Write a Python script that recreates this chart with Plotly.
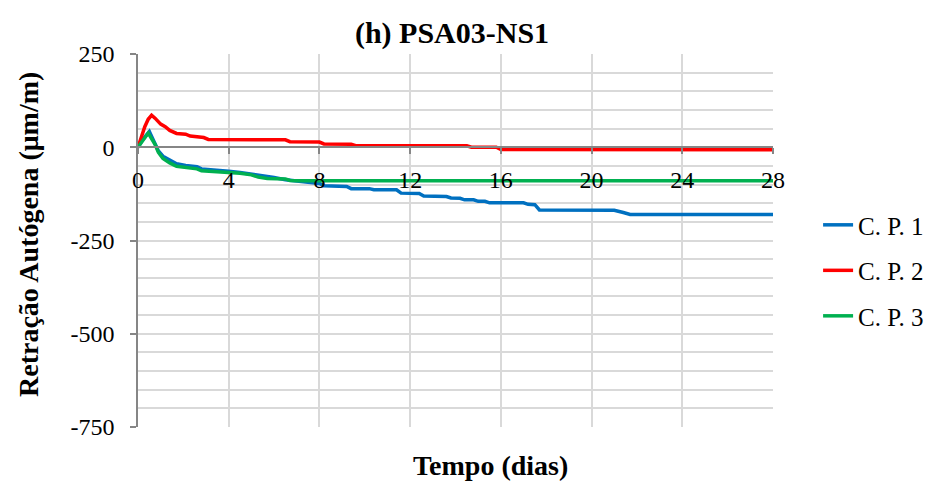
import plotly.graph_objects as go

# Autogenous shrinkage, specimen set PSA03-NS1 (days vs. µm/m)
cp1_days = [0, 0.2, 0.5, 0.75, 0.9, 1.1, 1.4, 1.7, 2.1, 2.6, 2.8, 3.5, 4.0, 4.5, 5.0, 5.4,
            6.0, 6.5, 7.0, 7.5, 8.0, 8.2, 9.2, 9.4, 10.2, 10.4, 11.4, 11.6, 12.4, 12.6,
            13.6, 13.8, 14.2, 14.4, 14.8, 15.0, 15.3, 15.5, 17.0, 17.2, 17.5, 17.7,
            21.0, 21.4, 21.7, 28.0]
cp1_vals = [0, 20, 42, 12, -10, -24, -35, -44, -49, -52, -58, -61, -64, -68, -72, -76,
            -81, -87, -91, -94, -97, -103, -105, -111, -111, -114, -114, -123, -124, -131,
            -132, -136, -137, -141, -141, -145, -145, -149, -149, -153, -154, -168,
            -169, -175, -180, -180]

cp2_days = [0, 0.15, 0.3, 0.45, 0.6, 0.75, 0.9, 1.0, 1.2, 1.4, 1.7, 2.1, 2.3, 2.7, 2.9,
            3.1, 6.5, 6.7, 8.0, 8.2, 9.4, 9.6, 14.5, 14.7, 15.8, 16.0, 28.0]
cp2_vals = [0, 30, 55, 75, 86, 78, 68, 62, 55, 45, 37, 35, 30, 28, 26,
            21, 20, 15, 14, 9, 8, 4, 4, 0, 0, -6, -7]

cp3_days = [0, 0.2, 0.45, 0.75, 0.9, 1.1, 1.4, 1.7, 2.1, 2.6, 2.8, 3.5, 4.0, 4.5, 5.0,
            5.3, 5.7, 6.5, 6.7, 7.0, 28.0]
cp3_vals = [0, 18, 38, 8, -14, -30, -42, -51, -55, -58, -63, -66, -67, -70, -74,
            -80, -84, -85, -89, -90, -90]

series_names = ["C. P. 1", "C. P. 2", "C. P. 3"]
series_colors = ["#0070C0", "#FF0000", "#00B050"]

x_ticks = [0, 4, 8, 12, 16, 20, 24, 28]
y_ticks = [-750, -500, -250, 0, 250]
y_range = [-750, 250]
x_range = [0, 28]

FONT = "Times New Roman, Liberation Serif, serif"
AXIS_GRAY = "#868686"
GRID_GRAY = "#D9D9D9"

fig = go.Figure()
for name, color, xs, ys in zip(series_names, series_colors,
                               [cp1_days, cp2_days, cp3_days],
                               [cp1_vals, cp2_vals, cp3_vals]):
    fig.add_trace(go.Scatter(x=xs, y=ys, mode="lines", name=name, legendgroup=name,
                             line=dict(color=color, width=3.5)))

# the horizontal axis crosses the vertical one at y = 0
x_cross = (0 - y_range[0]) / (y_range[1] - y_range[0])

fig.update_layout(
    width=931, height=483,
    margin=dict(l=138, r=158, t=54, b=56, autoexpand=False),
    paper_bgcolor="white", plot_bgcolor="white",
    font=dict(family=FONT, size=24, color="black"),
    title=dict(text="<b>(h) PSA03-NS1</b>", font=dict(size=30, family=FONT),
               x=0.4945, xref="paper", xanchor="center",
               y=1 - 32 / 483, yref="container", yanchor="middle"),
    xaxis=dict(range=x_range, tickvals=x_ticks, ticktext=[str(v) for v in x_ticks],
               showgrid=True, gridcolor=GRID_GRAY, gridwidth=1.5,
               showline=True, linecolor=AXIS_GRAY, linewidth=1.5,
               ticks="outside", ticklen=6, tickcolor=AXIS_GRAY, tickwidth=1.5,
               anchor="free", position=x_cross, zeroline=False,
               ticklabelstandoff=5, tickfont=dict(size=24)),
    yaxis=dict(range=y_range, tickvals=y_ticks, ticktext=[str(v) for v in y_ticks],
               showgrid=True, gridcolor=GRID_GRAY, gridwidth=1.5,
               minor=dict(dtick=50, showgrid=True, gridcolor=GRID_GRAY, gridwidth=1.5),
               showline=True, linecolor=AXIS_GRAY, linewidth=1.5,
               ticks="outside", ticklen=6, tickcolor=AXIS_GRAY, tickwidth=1.5,
               zeroline=False, ticklabelstandoff=11, tickfont=dict(size=24)),
    legend=dict(x=1.071, y=0.603, xanchor="left", yanchor="top",
                font=dict(size=25), traceorder="grouped", tracegroupgap=10,
                bgcolor="rgba(0,0,0,0)"),
    showlegend=True,
)

fig.add_annotation(text="<b>Tempo (dias)</b>", xref="paper", yref="paper",
                   x=(490 - 138) / 635, y=(427 - 465) / 373,
                   xanchor="center", yanchor="middle", showarrow=False,
                   font=dict(size=28, family=FONT))
fig.add_annotation(text="<b>Retração Autógena (μm/m)</b>", xref="paper", yref="paper",
                   x=(28 - 138) / 635, y=(427 - 235) / 373, textangle=-90,
                   xanchor="center", yanchor="middle", showarrow=False,
                   font=dict(size=28, family=FONT))

fig.write_html("out.html")
